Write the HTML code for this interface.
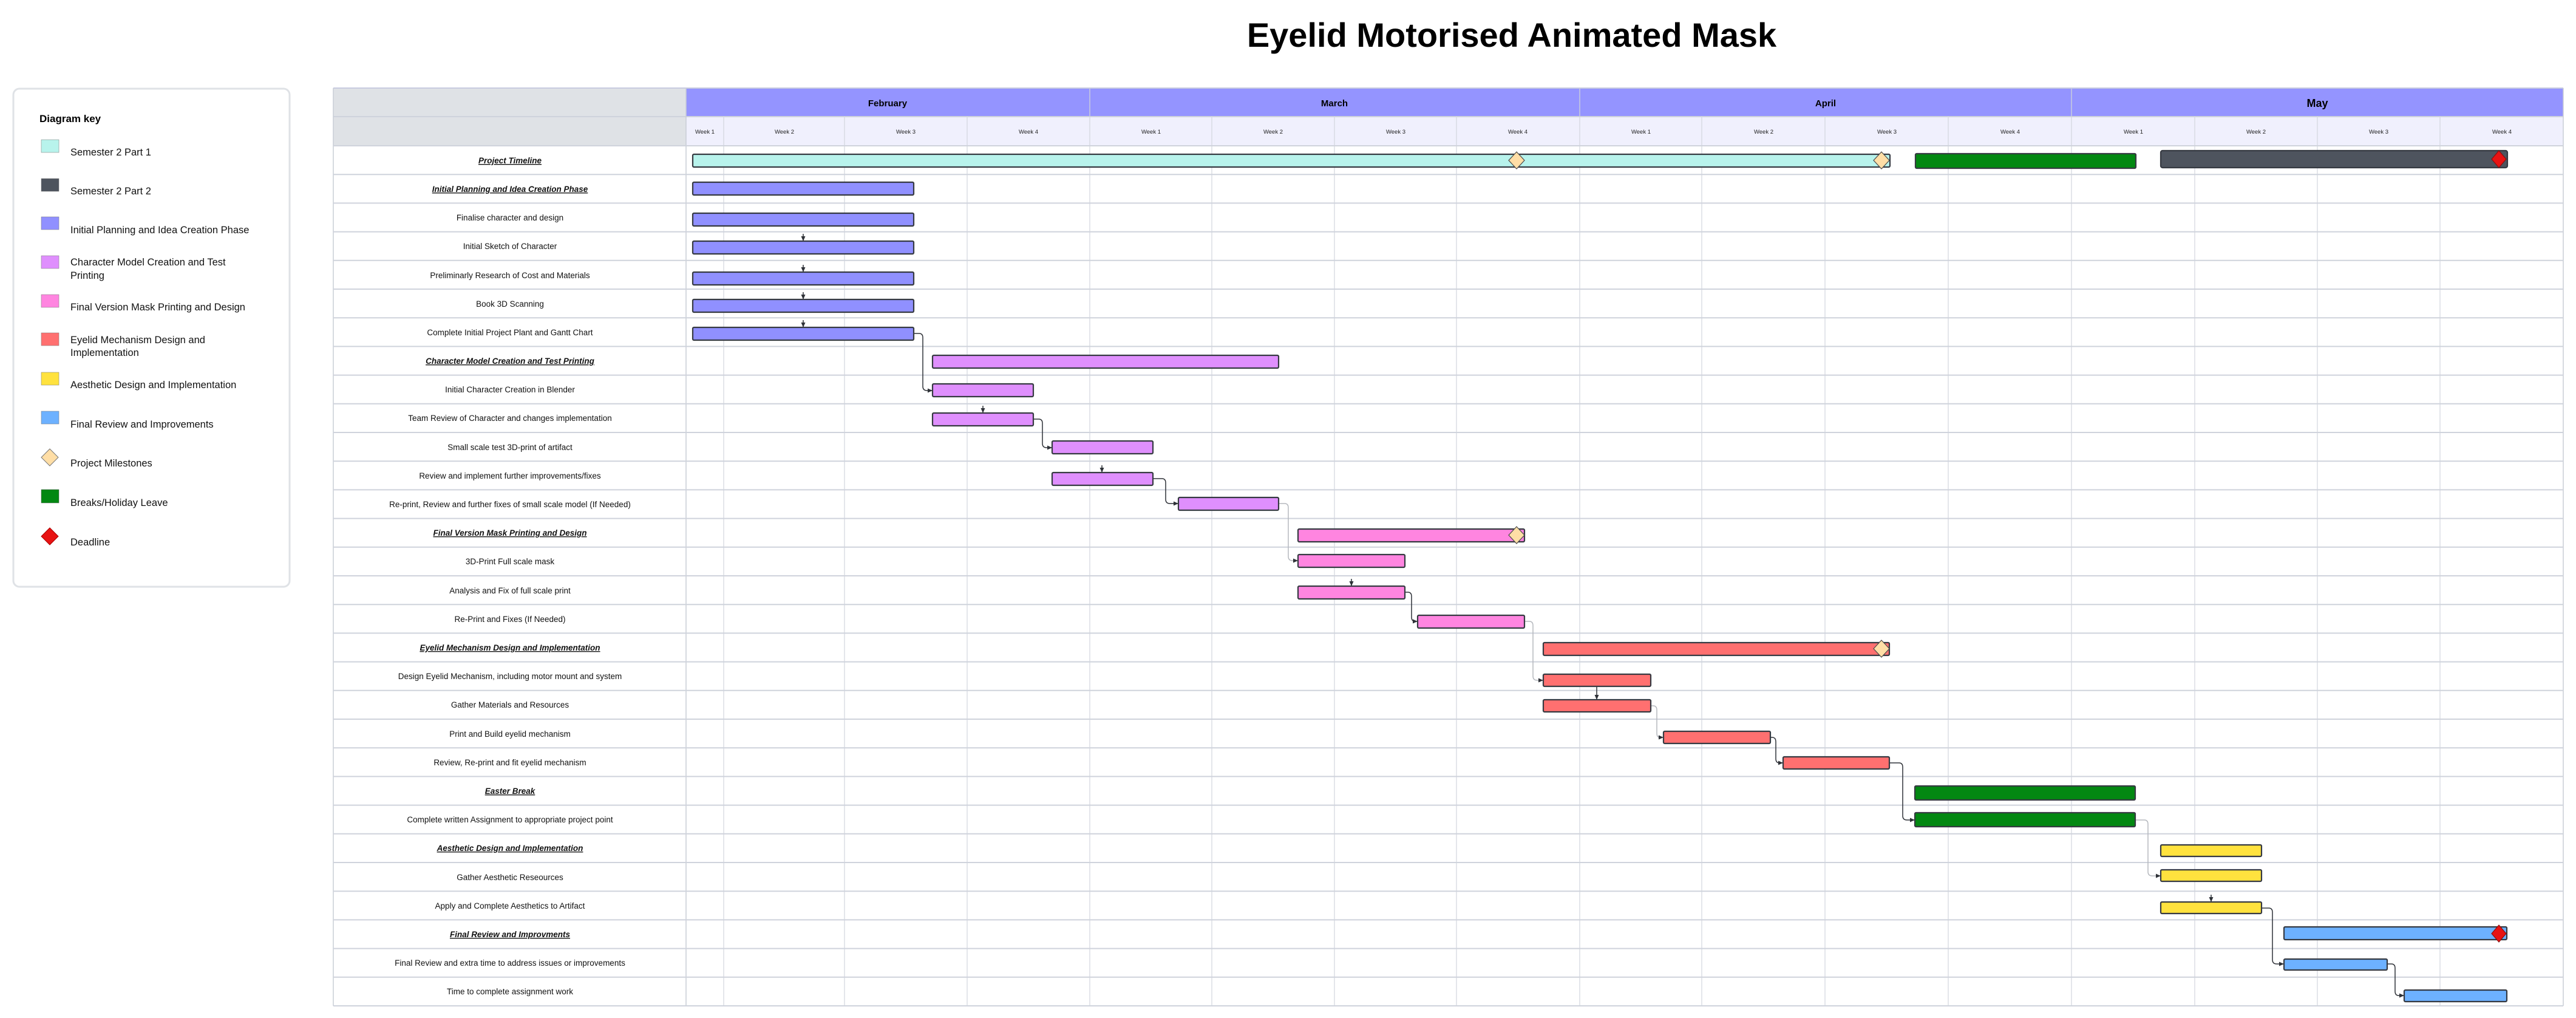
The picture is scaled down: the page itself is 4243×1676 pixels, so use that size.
<!DOCTYPE html>
<html><head><meta charset="utf-8">
<style>
html,body{margin:0;padding:0;background:#fff;}
svg{display:block;}
text{font-family:"Liberation Sans",sans-serif;}
</style></head>
<body>
<svg width="4243" height="1676" viewBox="0 0 4243 1676" xmlns="http://www.w3.org/2000/svg">
<defs>
<marker id="ah" markerWidth="8" markerHeight="8" refX="7" refY="4" orient="auto" markerUnits="userSpaceOnUse">
<path d="M0,0.5 L8,4 L0,7.5 Z" fill="#2f3238"/>
</marker>
</defs>
<rect width="4243" height="1676" fill="#fff"/>
<text x="2490" y="77" font-size="56" font-weight="bold" text-anchor="middle" fill="#000">Eyelid Motorised Animated Mask</text>

<!-- Legend -->
<rect x="22" y="146" width="455" height="820" rx="10" fill="#fff" stroke="#dfe2e6" stroke-width="3"/>
<text x="65" y="201" font-size="17" font-weight="bold">Diagram key</text>
<g font-size="16.5" fill="#111">
<rect x="68" y="230" width="29" height="21" fill="#b8f3ec" stroke="#777" stroke-width="0.5"/><text x="116" y="256">Semester 2 Part 1</text>
<rect x="68" y="294" width="29" height="21" fill="#4e545e" stroke="#777" stroke-width="0.5"/><text x="116" y="320">Semester 2 Part 2</text>
<rect x="68" y="357" width="29" height="21" fill="#9090ff" stroke="#777" stroke-width="0.5"/><text x="116" y="384">Initial Planning and Idea Creation Phase</text>
<rect x="68" y="421" width="29" height="21" fill="#df8ffd" stroke="#777" stroke-width="0.5"/><text x="116" y="437">Character Model Creation and Test</text><text x="116" y="459">Printing</text>
<rect x="68" y="485" width="29" height="21" fill="#ff85e0" stroke="#777" stroke-width="0.5"/><text x="116" y="511">Final Version Mask Printing and Design</text>
<rect x="68" y="548" width="29" height="21" fill="#ff7070" stroke="#777" stroke-width="0.5"/><text x="116" y="565">Eyelid Mechanism Design and</text><text x="116" y="586">Implementation</text>
<rect x="68" y="613" width="29" height="21" fill="#ffe23e" stroke="#777" stroke-width="0.5"/><text x="116" y="639">Aesthetic Design and Implementation</text>
<rect x="68" y="677" width="29" height="21" fill="#6db1ff" stroke="#777" stroke-width="0.5"/><text x="116" y="704">Final Review and Improvements</text>
<path d="M82,739 L96,753 L82,767 L68,753 Z" fill="#ffdea6" stroke="#777" stroke-width="1"/><text x="116" y="768">Project Milestones</text>
<rect x="68" y="806" width="29" height="22" fill="#038812" stroke="#555" stroke-width="0.5"/><text x="116" y="833">Breaks/Holiday Leave</text>
<path d="M82,869 L96,883 L82,897 L68,883 Z" fill="#e81313" stroke="#a00" stroke-width="1"/><text x="116" y="898">Deadline</text>
</g>

<!-- Table header -->
<rect x="549" y="145" width="581" height="95" fill="#dfe2e6"/>
<rect x="1130" y="145" width="3092" height="47" fill="#9494ff"/>
<rect x="1130" y="192" width="3092" height="48" fill="#f0f0fd"/>
<line x1="549" y1="145" x2="4222" y2="145" stroke="#c8cbe0" stroke-width="2"/>
<line x1="549" y1="192" x2="4222" y2="192" stroke="#cfd3dc" stroke-width="2"/>
<g stroke="#c8ccdd" stroke-width="1.5">
<line x1="1795" y1="145" x2="1795" y2="192"/><line x1="2602" y1="145" x2="2602" y2="192"/><line x1="3412" y1="145" x2="3412" y2="192"/>
</g>
<g font-size="15" font-weight="bold" text-anchor="middle">
<text x="1462" y="175">February</text><text x="2198" y="175">March</text><text x="3007" y="175">April</text><text x="3817" y="176" font-size="18">May</text>
</g>
<g font-size="9.5" text-anchor="middle" fill="#222">
<text x="1161" y="220">Week 1</text><text x="1292" y="220">Week 2</text><text x="1492" y="220">Week 3</text><text x="1694" y="220">Week 4</text>
<text x="1896" y="220">Week 1</text><text x="2097" y="220">Week 2</text><text x="2299" y="220">Week 3</text><text x="2500" y="220">Week 4</text>
<text x="2703" y="220">Week 1</text><text x="2905" y="220">Week 2</text><text x="3108" y="220">Week 3</text><text x="3311" y="220">Week 4</text>
<text x="3514" y="220">Week 1</text><text x="3716" y="220">Week 2</text><text x="3918" y="220">Week 3</text><text x="4121" y="220">Week 4</text>
</g>

<!-- Grid vertical -->
<g stroke="#d5d8e0" stroke-width="1.3">
<line x1="1192" y1="192" x2="1192" y2="1656"/><line x1="1391" y1="192" x2="1391" y2="1656"/><line x1="1593" y1="192" x2="1593" y2="1656"/><line x1="1795" y1="192" x2="1795" y2="1656"/>
<line x1="1996" y1="192" x2="1996" y2="1656"/><line x1="2198" y1="192" x2="2198" y2="1656"/><line x1="2399" y1="192" x2="2399" y2="1656"/><line x1="2602" y1="192" x2="2602" y2="1656"/>
<line x1="2803" y1="192" x2="2803" y2="1656"/><line x1="3006" y1="192" x2="3006" y2="1656"/><line x1="3209" y1="192" x2="3209" y2="1656"/><line x1="3412" y1="192" x2="3412" y2="1656"/>
<line x1="3615" y1="192" x2="3615" y2="1656"/><line x1="3817" y1="192" x2="3817" y2="1656"/><line x1="4019" y1="192" x2="4019" y2="1656"/>
</g>
<g stroke="#c9cdd6" stroke-width="1.5">
<line x1="549" y1="145" x2="549" y2="1656"/><line x1="1130" y1="145" x2="1130" y2="1656"/><line x1="4222" y1="145" x2="4222" y2="1656"/>
</g>
<!-- Grid horizontal -->
<g stroke="#cfd3dc" stroke-width="2">
<line x1="549" y1="240" x2="4222" y2="240"/><line x1="549" y1="287.2" x2="4222" y2="287.2"/><line x1="549" y1="334.4" x2="4222" y2="334.4"/><line x1="549" y1="381.6" x2="4222" y2="381.6"/>
<line x1="549" y1="428.8" x2="4222" y2="428.8"/><line x1="549" y1="476" x2="4222" y2="476"/><line x1="549" y1="523.2" x2="4222" y2="523.2"/><line x1="549" y1="570.4" x2="4222" y2="570.4"/>
<line x1="549" y1="617.6" x2="4222" y2="617.6"/><line x1="549" y1="664.8" x2="4222" y2="664.8"/><line x1="549" y1="712" x2="4222" y2="712"/><line x1="549" y1="759.2" x2="4222" y2="759.2"/>
<line x1="549" y1="806.4" x2="4222" y2="806.4"/><line x1="549" y1="853.6" x2="4222" y2="853.6"/><line x1="549" y1="900.8" x2="4222" y2="900.8"/><line x1="549" y1="948" x2="4222" y2="948"/>
<line x1="549" y1="995.2" x2="4222" y2="995.2"/><line x1="549" y1="1042.4" x2="4222" y2="1042.4"/><line x1="549" y1="1089.6" x2="4222" y2="1089.6"/><line x1="549" y1="1136.8" x2="4222" y2="1136.8"/>
<line x1="549" y1="1184" x2="4222" y2="1184"/><line x1="549" y1="1231.2" x2="4222" y2="1231.2"/><line x1="549" y1="1278.4" x2="4222" y2="1278.4"/><line x1="549" y1="1325.6" x2="4222" y2="1325.6"/>
<line x1="549" y1="1372.8" x2="4222" y2="1372.8"/><line x1="549" y1="1420" x2="4222" y2="1420"/><line x1="549" y1="1467.2" x2="4222" y2="1467.2"/><line x1="549" y1="1514.4" x2="4222" y2="1514.4"/>
<line x1="549" y1="1561.6" x2="4222" y2="1561.6"/><line x1="549" y1="1608.8" x2="4222" y2="1608.8"/><line x1="549" y1="1656" x2="4222" y2="1656"/>
</g>

<!-- Row labels -->
<g font-size="13.5" text-anchor="middle" fill="#111">
<text x="840" y="269" font-weight="bold" font-style="italic" text-decoration="underline">Project Timeline</text>
<text x="840" y="316" font-weight="bold" font-style="italic" text-decoration="underline">Initial Planning and Idea Creation Phase</text>
<text x="840" y="363">Finalise character and design</text>
<text x="840" y="410">Initial Sketch of Character</text>
<text x="840" y="458">Preliminarly Research of Cost and Materials</text>
<text x="840" y="505">Book 3D Scanning</text>
<text x="840" y="552">Complete Initial Project Plant and Gantt Chart</text>
<text x="840" y="599" font-weight="bold" font-style="italic" text-decoration="underline">Character Model Creation and Test Printing</text>
<text x="840" y="646">Initial Character Creation in Blender</text>
<text x="840" y="693">Team Review of Character and changes implementation</text>
<text x="840" y="741">Small scale test 3D-print of artifact</text>
<text x="840" y="788">Review and implement further improvements/fixes</text>
<text x="840" y="835">Re-print, Review and further fixes of small scale model (If Needed)</text>
<text x="840" y="882" font-weight="bold" font-style="italic" text-decoration="underline">Final Version Mask Printing and Design</text>
<text x="840" y="929">3D-Print Full scale mask</text>
<text x="840" y="977">Analysis and Fix of full scale print</text>
<text x="840" y="1024">Re-Print and Fixes (If Needed)</text>
<text x="840" y="1071" font-weight="bold" font-style="italic" text-decoration="underline">Eyelid Mechanism Design and Implementation</text>
<text x="840" y="1118">Design Eyelid Mechanism, including motor mount and system</text>
<text x="840" y="1165">Gather Materials and Resources</text>
<text x="840" y="1213">Print and Build eyelid mechanism</text>
<text x="840" y="1260">Review, Re-print and fit eyelid mechanism</text>
<text x="840" y="1307" font-weight="bold" font-style="italic" text-decoration="underline">Easter Break</text>
<text x="840" y="1354">Complete written Assignment to appropriate project point</text>
<text x="840" y="1401" font-weight="bold" font-style="italic" text-decoration="underline">Aesthetic Design and Implementation</text>
<text x="840" y="1449">Gather Aesthetic Reseources</text>
<text x="840" y="1496">Apply and Complete Aesthetics to Artifact</text>
<text x="840" y="1543" font-weight="bold" font-style="italic" text-decoration="underline">Final Review and Improvments</text>
<text x="840" y="1590">Final Review and extra time to address issues or improvements</text>
<text x="840" y="1637">Time to complete assignment work</text>
</g>

<!-- Connectors -->
<g fill="none" stroke-width="1.5">
<path d="M1505,549 H1514 Q1520,549 1520,556 V636 Q1520,643 1527,643 H1535" stroke="#2f3238" marker-end="url(#ah)"/>
<path d="M1702,690 H1711 Q1717,690 1717,697 V730 Q1717,737 1724,737 H1732" stroke="#2f3238" marker-end="url(#ah)"/>
<path d="M1899,788 H1914 Q1920,788 1920,795 V822 Q1920,829 1927,829 H1940" stroke="#2f3238" marker-end="url(#ah)"/>
<path d="M2106,829 H2116 Q2122,829 2122,836 V916 Q2122,923 2129,923 H2137" stroke="#b5b8be" marker-end="url(#ah)"/>
<path d="M2314,975 H2319 Q2325,975 2325,982 V1016 Q2325,1023 2331,1023 H2334" stroke="#2f3238" marker-end="url(#ah)"/>
<path d="M2511,1023 H2519 Q2525,1023 2525,1030 V1113 Q2525,1120 2532,1120 H2541" stroke="#b5b8be" marker-end="url(#ah)"/>
<path d="M2630,1131 V1151" stroke="#2f3238" marker-end="url(#ah)"/>
<path d="M2719,1162 H2723 Q2729,1162 2729,1169 V1207 Q2729,1214 2734,1214 H2739" stroke="#b5b8be" marker-end="url(#ah)"/>
<path d="M2916,1214 H2919 Q2925,1214 2925,1221 V1249 Q2925,1256 2931,1256 H2936" stroke="#2f3238" marker-end="url(#ah)"/>
<path d="M3112,1256 H3128 Q3134,1256 3134,1263 V1343 Q3134,1350 3141,1350 H3153" stroke="#2f3238" marker-end="url(#ah)"/>
<path d="M3517,1350 H3532 Q3538,1350 3538,1357 V1435 Q3538,1442 3545,1442 H3558" stroke="#b5b8be" marker-end="url(#ah)"/>
<path d="M3725,1495 H3737 Q3743,1495 3743,1502 V1580 Q3743,1587 3750,1587 H3761" stroke="#2f3238" marker-end="url(#ah)"/>
<path d="M3932,1587 H3939 Q3945,1587 3945,1594 V1632 Q3945,1639 3951,1639 H3959" stroke="#2f3238" marker-end="url(#ah)"/>
</g>
<g stroke="#2f3238" stroke-width="1.5" fill="none">
<path d="M1323,385 V396" marker-end="url(#ah)"/>
<path d="M1323,436 V447" marker-end="url(#ah)"/>
<path d="M1323,481 V492" marker-end="url(#ah)"/>
<path d="M1323,527 V538" marker-end="url(#ah)"/>
<path d="M1619,668 V679" marker-end="url(#ah)"/>
<path d="M1815,766 V777" marker-end="url(#ah)"/>
<path d="M2226,953 V964" marker-end="url(#ah)"/>
<path d="M3642,1473 V1484" marker-end="url(#ah)"/>
</g>

<!-- Bars -->
<g stroke="#363a42" stroke-width="2.2">
<rect x="1141" y="254" width="1972" height="21" rx="2" fill="#b8f3ec"/>
<rect x="3155" y="253" width="363" height="24" rx="2" fill="#038812"/>
<rect x="3559" y="248" width="571" height="28" rx="3" fill="#4e545e"/>
<rect x="1141" y="300" width="364" height="21" rx="2" fill="#9090ff"/>
<rect x="1141" y="351" width="364" height="21" rx="2" fill="#9090ff"/>
<rect x="1141" y="397" width="364" height="21" rx="2" fill="#9090ff"/>
<rect x="1141" y="448" width="364" height="21" rx="2" fill="#9090ff"/>
<rect x="1141" y="493" width="364" height="21" rx="2" fill="#9090ff"/>
<rect x="1141" y="539" width="364" height="21" rx="2" fill="#9090ff"/>
<rect x="1536" y="585" width="570" height="21" rx="2" fill="#df8ffd"/>
<rect x="1536" y="632" width="166" height="21" rx="2" fill="#df8ffd"/>
<rect x="1536" y="680" width="166" height="21" rx="2" fill="#df8ffd"/>
<rect x="1733" y="726" width="166" height="21" rx="2" fill="#df8ffd"/>
<rect x="1733" y="778" width="166" height="21" rx="2" fill="#df8ffd"/>
<rect x="1941" y="819" width="165" height="21" rx="2" fill="#df8ffd"/>
<rect x="2138" y="871" width="373" height="21" rx="2" fill="#ff85e0"/>
<rect x="2138" y="913" width="176" height="21" rx="2" fill="#ff85e0"/>
<rect x="2138" y="965" width="176" height="21" rx="2" fill="#ff85e0"/>
<rect x="2335" y="1013" width="176" height="21" rx="2" fill="#ff85e0"/>
<rect x="2542" y="1058" width="570" height="21" rx="2" fill="#ff7070"/>
<rect x="2542" y="1110" width="177" height="20" rx="2" fill="#ff7070"/>
<rect x="2542" y="1152" width="177" height="20" rx="2" fill="#ff7070"/>
<rect x="2740" y="1204" width="176" height="20" rx="2" fill="#ff7070"/>
<rect x="2937" y="1246" width="175" height="20" rx="2" fill="#ff7070"/>
<rect x="3154" y="1294" width="363" height="23" rx="2" fill="#038812"/>
<rect x="3154" y="1338" width="363" height="23" rx="2" fill="#038812"/>
<rect x="3559" y="1391" width="166" height="19" rx="2" fill="#ffe23e"/>
<rect x="3559" y="1432" width="166" height="19" rx="2" fill="#ffe23e"/>
<rect x="3559" y="1485" width="166" height="19" rx="2" fill="#ffe23e"/>
<rect x="3762" y="1526" width="367" height="21" rx="2" fill="#6db1ff"/>
<rect x="3762" y="1579" width="170" height="18" rx="2" fill="#6db1ff"/>
<rect x="3960" y="1630" width="169" height="19" rx="2" fill="#6db1ff"/>
</g>

<!-- Milestones -->
<g stroke="#4a4a4a" stroke-width="1.2">
<path d="M2498,250 L2511,264 L2498,278 L2485,264 Z" fill="#ffdea6"/>
<path d="M3099,250 L3112,264 L3099,278 L3086,264 Z" fill="#ffdea6"/>
<path d="M2498,867 L2511,881 L2498,895 L2485,881 Z" fill="#ffdea6"/>
<path d="M3099,1054 L3112,1068 L3099,1082 L3086,1068 Z" fill="#ffdea6"/>
<path d="M4116,248 L4128,262 L4116,276 L4104,262 Z" fill="#e81313" stroke="#8a1010"/>
<path d="M4116,1523 L4128,1537 L4116,1551 L4104,1537 Z" fill="#e81313" stroke="#8a1010"/>
</g>
</svg>
</body></html>
